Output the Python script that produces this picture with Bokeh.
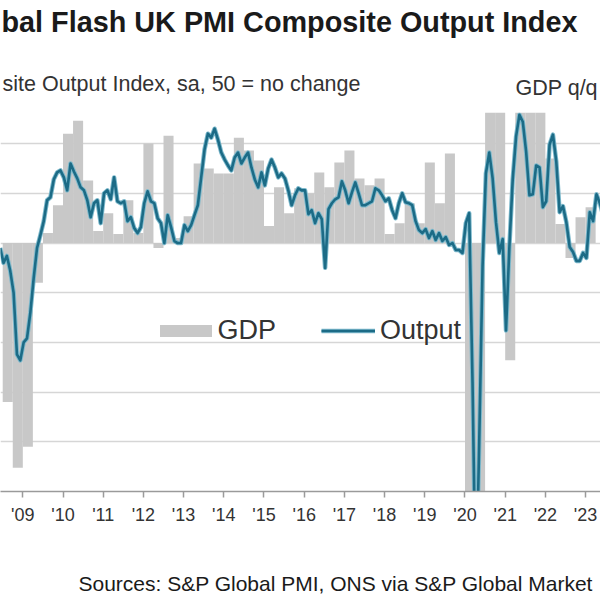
from bokeh.plotting import figure
from bokeh.layouts import column
from bokeh.models import (Range1d, FixedTicker, Grid, Legend, LegendItem,
                          ColumnDataSource)
from bokeh.core.properties import value
from bokeh.embed import file_html
from bokeh.resources import INLINE

# ---------------- data ----------------
# Flash UK PMI Composite Output Index (monthly, sa), first value = June 2008
pmi_first_year = 2008
pmi_first_month = 6
pmi_2008 = [49.5, 48.0, 48.7, 47.2, 45.0, 38.8, 38.2]
pmi_2009 = [40.0, 40.4, 43.0, 46.5, 49.5, 50.8, 52.2, 54.3, 54.6, 56.4, 57.1, 57.3]
pmi_2010 = [56.6, 55.3, 58.0, 57.2, 56.5, 55.6, 55.3, 54.3, 52.6, 54.0, 54.3, 52.0]
pmi_2011 = [55.0, 55.3, 54.4, 56.6, 54.2, 54.0, 54.2, 52.2, 52.6, 51.5, 51.0, 51.6]
pmi_2012 = [54.0, 55.2, 54.2, 54.0, 52.5, 52.0, 50.0, 52.8, 51.6, 50.2, 50.0, 50.0]
pmi_2013 = [51.8, 51.2, 51.8, 52.8, 53.8, 56.6, 59.4, 61.0, 60.6, 61.5, 60.4, 59.1]
pmi_2014 = [58.4, 57.8, 57.3, 58.6, 59.1, 58.0, 58.6, 59.1, 57.6, 56.4, 55.6, 57.1]
pmi_2015 = [55.8, 57.5, 58.4, 57.6, 56.6, 57.0, 56.5, 55.3, 53.8, 54.8, 55.5, 55.3]
pmi_2016 = [55.3, 52.9, 53.3, 52.0, 53.0, 52.4, 47.5, 53.4, 54.0, 54.4, 54.6, 56.2]
pmi_2017 = [55.3, 54.0, 55.1, 56.1, 55.0, 53.8, 53.8, 54.0, 54.2, 55.5, 55.3, 54.8]
pmi_2018 = [54.2, 54.5, 53.3, 52.5, 54.0, 55.0, 54.1, 54.0, 53.8, 52.2, 51.3, 51.0]
pmi_2019 = [51.4, 50.5, 51.2, 50.3, 51.0, 50.2, 50.6, 49.8, 50.0, 49.3, 49.3, 49.0]
pmi_2020 = [52.0, 53.0, 36.0, 13.8, 30.0, 47.7, 57.0, 59.1, 56.5, 52.1, 49.0, 50.4]
pmi_2021 = [41.2, 49.6, 56.4, 60.7, 62.9, 62.2, 59.2, 54.8, 54.9, 57.8, 57.6, 53.6]
pmi_2022 = [54.2, 59.9, 60.9, 58.2, 53.1, 53.7, 52.1, 49.6, 49.1, 48.2, 48.2, 49.0]
pmi_2023 = [48.5, 53.1, 52.2, 54.9, 54.0, 52.8]

# UK GDP q/q % (quarterly), first value = 2008 Q3
gdp_first_year = 2008
gdp_first_quarter = 3
gdp_values = [
    -1.6, -2.26,                      # 2008 Q3-Q4
    -2.05, -0.4, 0.1, 0.38,           # 2009
    1.1, 1.23, 0.63, 0.12,            # 2010
    0.3, 0.09, 0.43, 0.1,             # 2011
    1.0, -0.05, 1.08, 0.05,           # 2012
    0.27, 0.8, 0.75, 0.7,             # 2013
    0.7, 1.06, 0.93, 0.83,            # 2014
    0.17, 0.56, 0.3, 0.55,            # 2015
    0.5, 0.71, 0.56, 0.81,            # 2016
    0.93, 0.65, 0.58, 0.65,           # 2017
    0.09, 0.2, 0.4, 0.2,              # 2018
    0.81, 0.4, 0.9, 0.0,              # 2019
    -2.7, -19.4, 16.9, 1.5,           # 2020
    -1.18, 6.5, 1.7, 1.5,             # 2021
    0.85, 0.19, -0.15, 0.26,          # 2022
    0.36,                             # 2023 Q1
]

year_ticks = list(range(2009, 2024))
tick_labels = ["'09", "'10", "'11", "'12", "'13", "'14", "'15", "'16",
               "'17", "'18", "'19", "'20", "'21", "'22", "'23"]

title_text = "bal Flash UK PMI Composite Output Index"
subtitle_text = "site Output Index, sa, 50 = no change"
right_axis_text = "GDP q/q"
source_text = "Sources: S&P Global PMI, ONS via S&P Global Market"

# ---------------- build ----------------
pmi_values = (pmi_2008 + pmi_2009 + pmi_2010 + pmi_2011 + pmi_2012 + pmi_2013 +
              pmi_2014 + pmi_2015 + pmi_2016 + pmi_2017 + pmi_2018 + pmi_2019 +
              pmi_2020 + pmi_2021 + pmi_2022 + pmi_2023)
m0 = pmi_first_year * 12 + (pmi_first_month - 1)
pmi_t = [(m0 + i + 0.25) / 12.0 for i in range(len(pmi_values))]

q0 = gdp_first_year * 4 + (gdp_first_quarter - 1)
gdp_t = [(q0 + i + 0.5) / 4.0 for i in range(len(gdp_values))]

W = 600
FONT = "Liberation Sans"


def text_panel(height):
    f = figure(width=W, height=height, output_backend="svg", toolbar_location=None,
               x_range=Range1d(0, W), y_range=Range1d(height, 0),
               x_axis_location=None, y_axis_location=None,
               min_border=0, min_border_left=0, min_border_right=0,
               min_border_top=0, min_border_bottom=0)
    f.outline_line_color = None
    f.xgrid.visible = False
    f.ygrid.visible = False
    return f


# header: title, subtitle and right-axis caption
header = text_panel(112)
header.text(x=[1], y=[21], text=[title_text], text_font=value(FONT),
            text_font_style="bold", text_font_size=value("28.8px"),
            text_color="#1a1a1a", text_baseline="middle", text_align="left")
header.text(x=[2], y=[83], text=[subtitle_text], text_font=value(FONT),
            text_font_size=value("21.5px"), text_color="#333333",
            text_baseline="middle", text_align="left")
header.text(x=[515], y=[87], text=[right_axis_text], text_font=value(FONT),
            text_font_size=value("21.5px"), text_color="#333333",
            text_baseline="middle", text_align="left")

# main chart
X0, X1 = 2008.445, 2023.371
Y0, Y1 = 25.0, 63.13
FRAME_H = 379
p = figure(width=W, height=428, output_backend="svg", toolbar_location=None,
           x_range=Range1d(X0, X1), y_range=Range1d(Y0, Y1),
           y_axis_location=None,
           min_border_left=0, min_border_right=0,
           min_border_top=0, min_border_bottom=428 - FRAME_H)
p.extra_y_ranges = {"gdp": Range1d(-2.5, -2.5 + (Y1 - Y0) / 10.0)}
p.outline_line_color = None
p.xgrid.visible = False
p.ygrid.visible = False

grid = Grid(dimension=1, ticker=FixedTicker(ticks=[30, 35, 40, 45, 50, 55, 60]),
            grid_line_color="#d6d6d6", grid_line_width=1.5)
p.add_layout(grid)

gdp_src = ColumnDataSource(dict(x=gdp_t, top=gdp_values))
bars = p.vbar(x="x", top="top", bottom=0, width=0.25, source=gdp_src,
              y_range_name="gdp", fill_color="#c8c8c8", line_color=None)

pmi_src = ColumnDataSource(dict(x=pmi_t, y=pmi_values))
halo = p.line("x", "y", source=pmi_src, line_color="#7db9cc", line_width=4.5,
              line_join="round")
core = p.line("x", "y", source=pmi_src, line_color="#1c6b86", line_width=2.6,
              line_join="round")

ax = p.xaxis[0]
ax.ticker = FixedTicker(ticks=year_ticks)
ax.major_label_overrides = {y: lab for y, lab in zip(year_ticks, tick_labels)}
ax.axis_line_color = "#9a9a9a"
ax.axis_line_width = 1.5
ax.major_tick_line_color = "#9a9a9a"
ax.major_tick_line_width = 1.5
ax.major_tick_in = 0
ax.major_tick_out = 6
ax.minor_tick_out = 0
ax.minor_tick_in = 0
ax.major_label_text_font = FONT
ax.major_label_text_font_size = "18px"
ax.major_label_text_color = "#333333"
ax.major_label_standoff = 7

leg_common = dict(orientation="horizontal", padding=0, margin=0, spacing=0,
                  border_line_color=None, background_fill_alpha=0,
                  label_text_font=FONT, label_text_font_size="27px",
                  label_text_color="#333333")
leg1 = Legend(items=[LegendItem(label="GDP", renderers=[bars])],
              location=(152.5, 145), glyph_width=65, glyph_height=15,
              label_standoff=0, **leg_common)
leg2 = Legend(items=[LegendItem(label="Output", renderers=[halo, core])],
              location=(321, 145), glyph_width=54, glyph_height=15,
              label_standoff=5, **leg_common)
p.add_layout(leg1)
p.add_layout(leg2)

# footer: source line
footer = text_panel(60)
footer.text(x=[78], y=[43], text=[source_text], text_font=value(FONT),
            text_font_size=value("21px"), text_color="#1a1a1a",
            text_baseline="middle", text_align="left")

layout = column(header, p, footer, spacing=0)
open("out.html", "w").write(file_html(layout, INLINE))
